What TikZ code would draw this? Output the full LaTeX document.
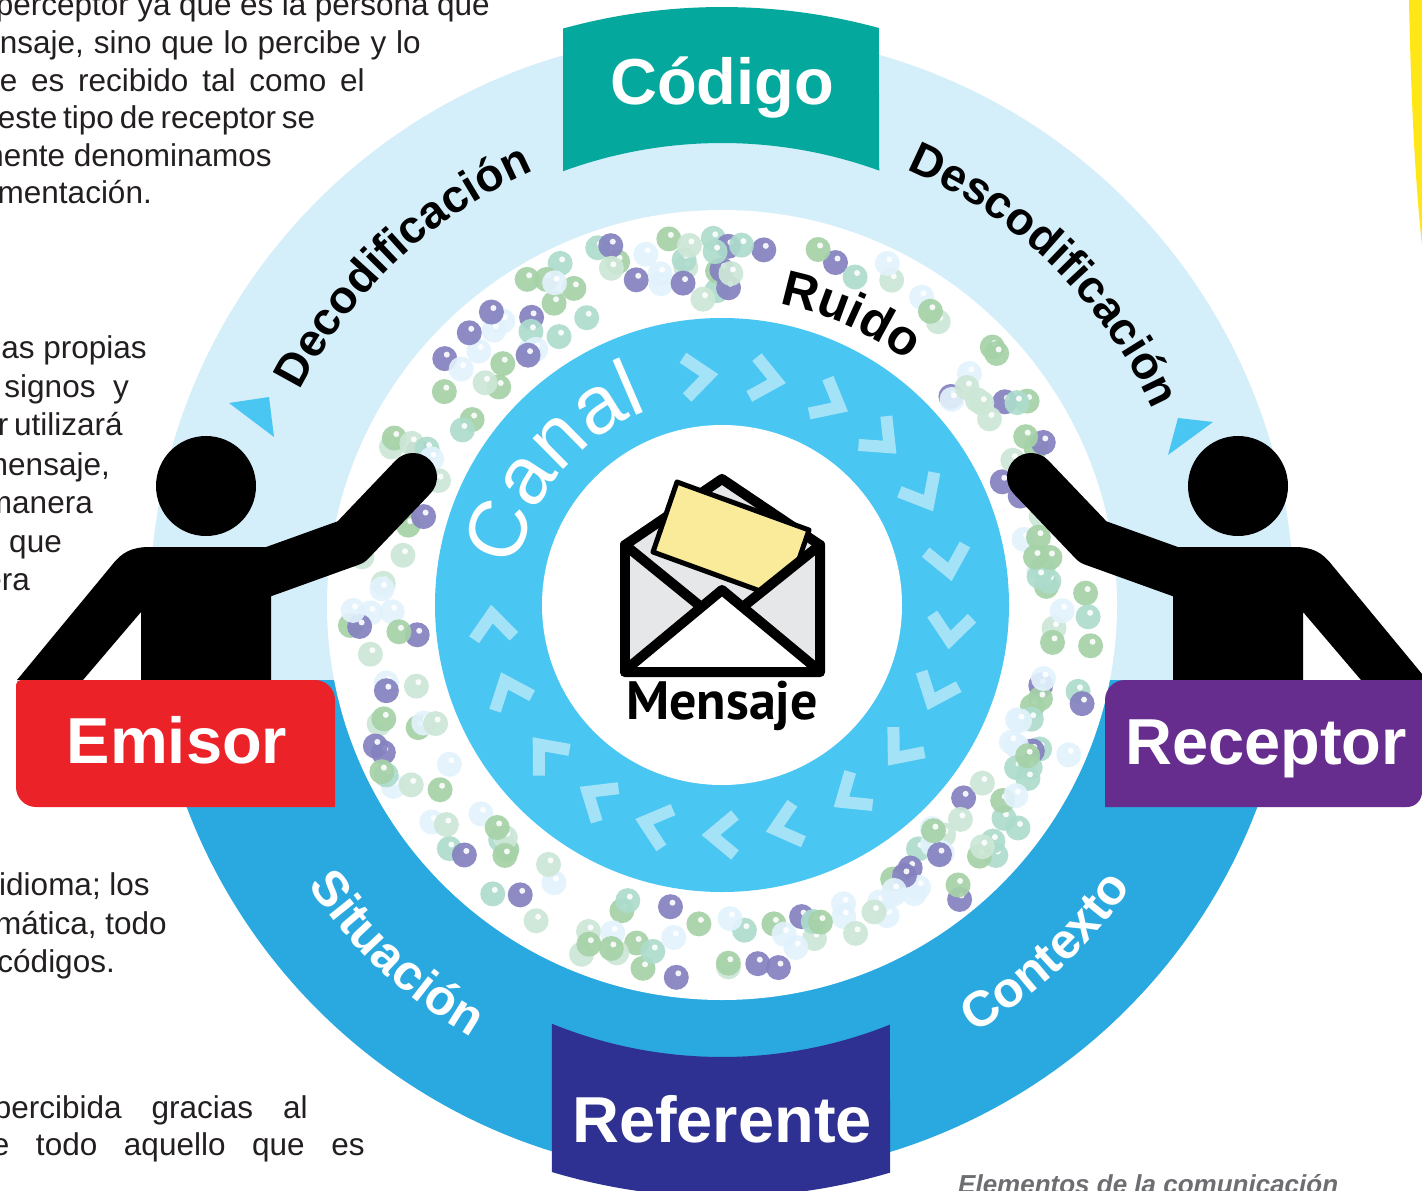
\documentclass[tikz,border=0pt]{standalone}
\usepackage{fontspec}
\setmainfont{Liberation Sans}
\newfontfamily\sobrefont{PT Sans}
\usepackage{xcolor}
\usetikzlibrary{decorations.text}

\definecolor{anillo}{HTML}{D4EEFA}
\definecolor{anillobajo}{HTML}{29A9E0}
\definecolor{canalazul}{HTML}{4AC6F2}
\definecolor{codigo}{HTML}{04A89D}
\definecolor{referente}{HTML}{2E3192}
\definecolor{emisor}{HTML}{EC2229}
\definecolor{receptor}{HTML}{662D8F}
\definecolor{carta}{HTML}{FAEB9A}
\definecolor{sobre}{HTML}{E6E7E8}
\definecolor{tinta}{HTML}{231F20}
\definecolor{leyenda}{HTML}{6D6E71}
\definecolor{amarillo}{HTML}{FFE617}
\definecolor{bubA}{HTML}{A6D2A8}
\definecolor{bubB}{HTML}{ADDCCD}
\definecolor{bubC}{HTML}{8582C0}
\definecolor{bubD}{HTML}{CDE7D6}
\definecolor{bubE}{HTML}{E2F2FC}

\begin{document}
\begin{tikzpicture}[x=1pt, y=1pt,
  parrafo/.style={anchor=base east, inner sep=0pt, font=\fontsize{31.5}{31.5}\selectfont, text=tinta},
  rotulo/.style={anchor=base, inner sep=0pt, font=\fontsize{65}{65}\selectfont\bfseries, text=white},
  chevron/.style={white, opacity=.5, line width=12pt, miter limit=10},
  trazo/.style={line width=10pt, line join=round, line cap=round},
  persona/.pic={
    \fill (206,-486) circle[radius=50];
    \fill (17,-680) -- (112,-565) .. controls (122,-552) and (132,-547) .. (150,-547)
      -- (271,-547) -- (271,-680) -- (141,-680) -- (141,-612) -- (83,-680) -- cycle;
    \draw[line width=48pt, line cap=round, line join=round]
      (262,-574) -- (351,-542) -- (413,-477);
  }
]
  \useasboundingbox (0,0) rectangle (1422,-1191);
  \clip (0,0) rectangle (1422,-1191);
  \fill[white] (0,0) rectangle (1422,-1191);
  \coordinate (ctr) at (722,-605);

  % yellow edge, top right
  \fill[amarillo] (1409,0) .. controls (1411,-100) and (1415,-180) .. (1422,-245) -- (1422,0) -- cycle;

  % running text on the left
  \node[parrafo] (p1) at (490,-15) {\makebox[494pt][s]{perceptor ya que es la persona que}};
  \node[parrafo] (p2) at (421,-53) {\makebox[421pt][s]{nsaje, sino que lo percibe y lo}};
  \node[parrafo] (p3) at (365,-91) {\makebox[365pt][s]{e es recibido tal como el}};
  \node[parrafo] (p4) at (314,-128) {\makebox[316pt][s]{este tipo de receptor se}};
  \node[parrafo] (p5) at (272,-166) {mente denominamos};
  \node[parrafo] (p6) at (152,-203) {mentación.};
  \node[parrafo] (p7) at (147,-358) {as propias};
  \node[parrafo] (p8) at (129,-397) {signos\ \ y};
  \node[parrafo] (p9) at (117,-435) {\makebox[119pt][s]{r utilizará}};
  \node[parrafo] (p10) at (110,-475) {mensaje,};
  \node[parrafo] (p11) at (93,-513) {manera};
  \node[parrafo] (p12) at (62,-552) {que};
  \node[parrafo] (p13) at (30,-590) {era};
  \node[parrafo] (p14) at (150,-895) {idioma; los};
  \node[parrafo] (p15) at (167,-934) {mática, todo};
  \node[parrafo] (p16) at (115,-972) {códigos.};
  \node[parrafo] (p17) at (308,-1118) {\makebox[314pt][s]{percibida gracias al}};
  \node[parrafo] (p18) at (365,-1155) {\makebox[373pt][s]{e todo aquello que es}};

  % outer ring, light top and darker bottom
  \fill[anillo] (ctr) circle[radius=572];
  \begin{scope}
    \clip (0,-680) rectangle (1422,-1191);
    \fill[anillobajo] (ctr) circle[radius=572];
  \end{scope}

  % curved banners
  \fill[codigo] ([shift={(ctr)}]105.4:598) arc[start angle=105.4, end angle=74.8, radius=598]
    -- ([shift={(ctr)}]70.1:462) arc[start angle=70.1, end angle=110.1, radius=462] -- cycle;
  \fill[referente] ([shift={(ctr)}]-112.1:452) arc[start angle=-112.1, end angle=-68.2, radius=452]
    -- ([shift={(ctr)}]-73.5:592) arc[start angle=-73.5, end angle=-106.7, radius=592] -- cycle;
  \node[rotulo] (codigo) at (722,-104) {Código};
  \node[rotulo] (referente) at (722,-1142) {Referente};

  % noise ring
  \fill[white] (ctr) circle[radius=395];
  \pgfmathsetseed{2718}
  \foreach \i in {1,...,240} {
    \pgfmathsetmacro\ang{rnd*360}
    \pgfmathsetmacro\rad{306+rnd*74}
    \pgfmathrandominteger\k{0}{4}
    \pgfmathsetmacro\col{{"bubA","bubB","bubC","bubD","bubE"}[\k]}
    \pgfmathtruncatemacro\libre{(\ang>45)*(\ang<88)*(\rad<352)}
    \ifnum\libre=0
      \fill[\col, opacity=.92] ([shift={(ctr)}]\ang:\rad) circle[radius=12.5];
      \fill[white, opacity=.9] ([shift={(ctr)}]\ang:\rad) ++(2,4) circle[radius=3];
    \fi
  }

  % channel ring with chevrons
  \fill[canalazul] (ctr) circle[radius=287];
  \foreach \a in {96,79,62,46,29,11,-6,-22,-39,-56,-74,-90,-107,-123,-140,-158,-175} {
    \begin{scope}[shift={(ctr)}, rotate=\a]
      \draw[chevron] (210,13) -- (230,-11) -- (250,13);
    \end{scope}
  }
  \fill[white] (ctr) circle[radius=180];

  % envelope
  \filldraw[fill=sobre, trazo] (625,-545) -- (722,-479) -- (820,-545) -- (820,-672) -- (625,-672) -- cycle;
  \filldraw[fill=carta, line width=5pt, line join=round] (677,-482) -- (809,-530) -- (785,-600) -- (653,-552) -- cycle;
  \fill[sobre] (628,-550) -- (628,-665) -- (700,-606) -- cycle;
  \fill[sobre] (816,-550) -- (816,-665) -- (744,-606) -- cycle;
  \fill[white] (632,-668) -- (722,-592) -- (812,-668) -- cycle;
  \draw[trazo] (625,-545) -- (700,-606);
  \draw[trazo] (820,-545) -- (744,-606);
  \draw[trazo] (628,-668) -- (722,-590) -- (816,-668);
  \draw[trazo] (625,-545) -- (625,-672) -- (820,-672) -- (820,-545);
  \node[anchor=base, inner sep=0pt, font=\sobrefont\bfseries\fontsize{54}{54}\selectfont] (mensaje) at (722,-719) {Mensaje};

  % labels along the rings
  \path[decorate, decoration={text along path, text align=center,
    text={|\fontsize{46}{46}\selectfont\bfseries|Decodificación}}]
    ([shift={(ctr)}]163.3:473) arc[start angle=163.3, end angle=103.3, radius=473];
  \path[decorate, decoration={text along path, text align=center,
    text={|\fontsize{46}{46}\selectfont\bfseries|Descodificación}}]
    ([shift={(ctr)}]75.7:473) arc[start angle=75.7, end angle=15.7, radius=473];
  \path[decorate, decoration={text along path, text align=center,
    text={|\fontsize{50}{50}\selectfont\bfseries|Ruido}}]
    ([shift={(ctr)}]91:306) arc[start angle=91, end angle=41, radius=306];
  \path[decorate, decoration={text along path, text align=center,
    text={|\fontsize{82}{82}\selectfont\color{white}|Canal}}]
    ([shift={(ctr)}]180.3:208) arc[start angle=180.3, end angle=100.3, radius=208];
  \path[decorate, decoration={text along path, text align=center,
    text={|\fontsize{50}{50}\selectfont\bfseries\color{white}|Situación}}]
    ([shift={(ctr)}]200:500) arc[start angle=200, end angle=254, radius=500];
  \path[decorate, decoration={text along path, text align=center,
    text={|\fontsize{50}{50}\selectfont\bfseries\color{white}|Contexto}}]
    ([shift={(ctr)}]-74:497) arc[start angle=-74, end angle=-20, radius=497];

  % arrow heads of the coding arcs
  \fill[canalazul] (229,-403) -- (269,-397) -- (274,-437) -- cycle;
  \fill[canalazul] (1213,-422) -- (1178,-418) -- (1168,-455) -- cycle;

  % sender and receiver
  \pic at (0,0) {persona};
  \begin{scope}[cm={-1,0,0,1,(1444,0)}]
    \pic[transform shape] at (0,0) {persona};
  \end{scope}
  \fill[emisor] (21,-680) -- (315,-680) arc[start angle=90, end angle=0, radius=20]
    -- (335,-807) -- (36,-807) arc[start angle=270, end angle=180, radius=20]
    -- (16,-685) arc[start angle=180, end angle=90, radius=5] -- cycle;
  \fill[receptor] (1125,-680) -- (1422,-680) -- (1422,-792) arc[start angle=0, end angle=-90, radius=15]
    -- (1105,-807) -- (1105,-700) arc[start angle=180, end angle=90, radius=20] -- cycle;
  \node[rotulo] (emisor) at (177,-763) {Emisor};
  \node[rotulo] (receptor) at (1266,-764) {Receptor};

  % caption
  \node[anchor=base west, inner sep=0pt, font=\fontsize{26}{26}\selectfont\bfseries\itshape, text=leyenda]
    (leyenda) at (958,-1193) {Elementos de la comunicación};
\end{tikzpicture}
\end{document}
